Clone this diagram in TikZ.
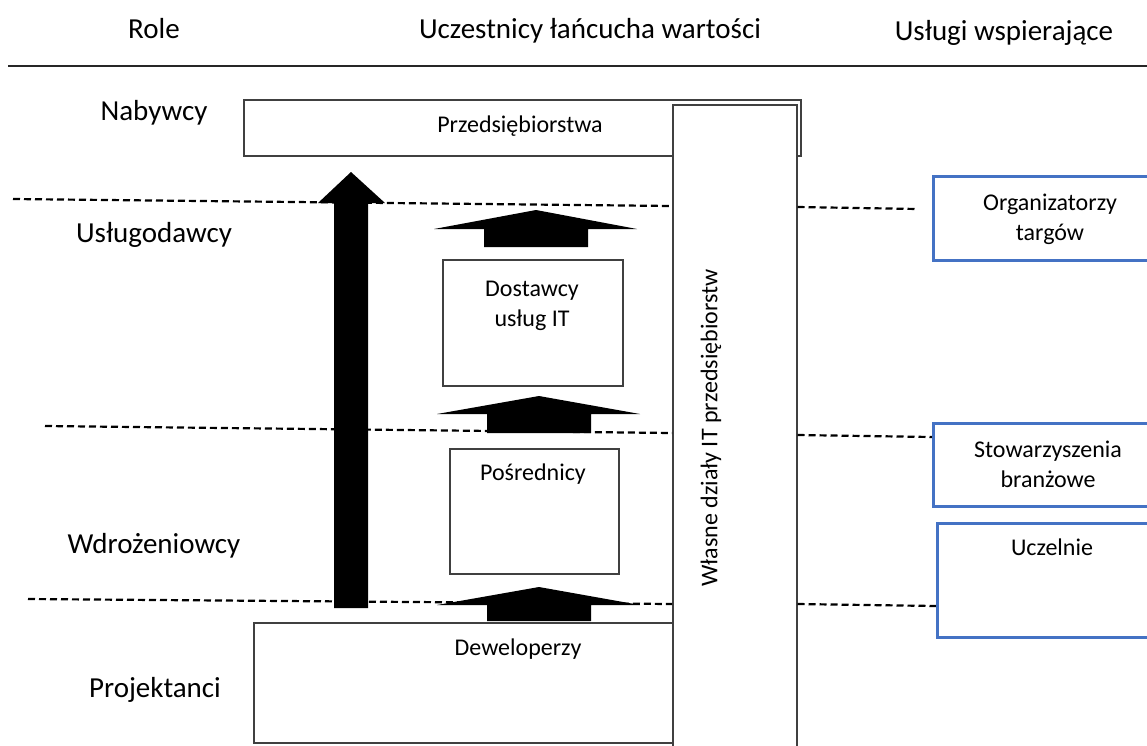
\documentclass[tikz,border=0pt]{standalone}
\usepackage{fontspec}
\setmainfont{Carlito}
\usetikzlibrary{positioning}
\definecolor{ramka}{HTML}{404040}
\definecolor{niebieski}{HTML}{4472C4}

\begin{document}
\begin{tikzpicture}[x=1pt,y=-1pt,
  rola/.style={font=\fontsize{29}{34}\selectfont,anchor=base},
  napis/.style={font=\fontsize{24}{30}\selectfont,align=center,anchor=base},
  pudlo/.style={draw=ramka,line width=1.5pt,fill=white,anchor=north west,inner sep=0pt},
  wsparcie/.style={draw=niebieski,line width=2.5pt,fill=white,anchor=north west,inner sep=0pt},
  przerywana/.style={dash pattern=on 7pt off 4pt,line width=2.2pt},
  strzalka/.style={fill=black}]
  \useasboundingbox (0,0) rectangle (1147,745);
  \node[rola] (role) at (154,38) {Role};
  \node[rola] (uczestnicy) at (590,38) {Uczestnicy łańcucha wartości};
  \node[rola] (uslugi) at (1004,40) {Usługi wspierające};
  \draw[line width=1.5pt,black!85] (8,66) -- (1160,66);
  \node[rola] (nabywcy) at (154,120) {Nabywcy};
  \node[rola] (uslugodawcy) at (154,242) {Usługodawcy};
  \node[rola] (wdrozeniowcy) at (154,553) {Wdrożeniowcy};
  \node[rola] (projektanci) at (155,697) {Projektanci};
  \node[pudlo,minimum width=557pt,minimum height=56pt] (firmy) at (243,99) {};
  \node[napis] (firmyT) at (520,132) {Przedsiębiorstwa};
  \node[pudlo,minimum width=124pt,minimum height=680pt] (dzialy) at (672,104) {};
  \node[napis,rotate=90,anchor=center] (dzialyT) at (711,428) {Własne działy IT przedsiębiorstw};
  \coordinate (L1) at (13,199);
  \coordinate (L1k) at (dzialy.west |- 0,206);
  \coordinate (P1) at (dzialy.east |- 0,207);
  \coordinate (P1k) at (918,209);
  \coordinate (L2) at (45,426);
  \coordinate (L2k) at (dzialy.west |- 0,433);
  \coordinate (P2) at (dzialy.east |- 0,435);
  \coordinate (P2k) at (932,437);
  \coordinate (L3) at (28,599);
  \coordinate (L3k) at (dzialy.west |- 0,604);
  \coordinate (P3) at (dzialy.east |- 0,604);
  \coordinate (P3k) at (936,606);
  \draw[przerywana] (L1) -- (L1k) (P1) -- (P1k);
  \draw[przerywana] (L2) -- (L2k) (P2) -- (P2k);
  \draw[przerywana] (L3) -- (L3k) (P3) -- (P3k);
  \fill[strzalka] (334,608) -- (334,203) -- (318,203) -- (351,172) -- (385,203)
    -- (368,203) -- (368,608) -- cycle;
  \foreach \sx/\gy/\py/\dy in {536/210/229/247, 539/396/414/433, 539/587/605/621}
    \fill[strzalka] (\sx-52,\dy) -- (\sx-52,\py) -- (\sx-102,\py) -- (\sx,\gy)
      -- (\sx+101,\py) -- (\sx+52,\py) -- (\sx+52,\dy) -- cycle;
  \node[pudlo,minimum width=180pt,minimum height=126pt] (dostawcy) at (442,259) {};
  \node[napis] (dostawcyT) at (532,326) {Dostawcy\\usług IT};
  \node[pudlo,minimum width=169pt,minimum height=125pt] (posrednicy) at (449,448) {};
  \node[napis] (posrednicyT) at (533,480) {Pośrednicy};
  \node[pudlo,minimum width=419pt,minimum height=120pt] (deweloperzy) at (253,622) {};
  \node[napis] (deweloperzyT) at (518,655) {Deweloperzy};
  \node[wsparcie,minimum width=240pt,minimum height=84pt] (targi) at (932,175) {};
  \node[napis] (targiT) at (1050,240) {Organizatorzy\\targów};
  \node[wsparcie,minimum width=240pt,minimum height=83pt] (stowarzyszenia) at (932,422) {};
  \node[napis] (stowarzyszeniaT) at (1048,487) {Stowarzyszenia\\branżowe};
  \node[wsparcie,minimum width=236pt,minimum height=114pt] (uczelnie) at (936,522) {};
  \node[napis] (uczelnieT) at (1052,555) {Uczelnie};
\end{tikzpicture}
\end{document}
